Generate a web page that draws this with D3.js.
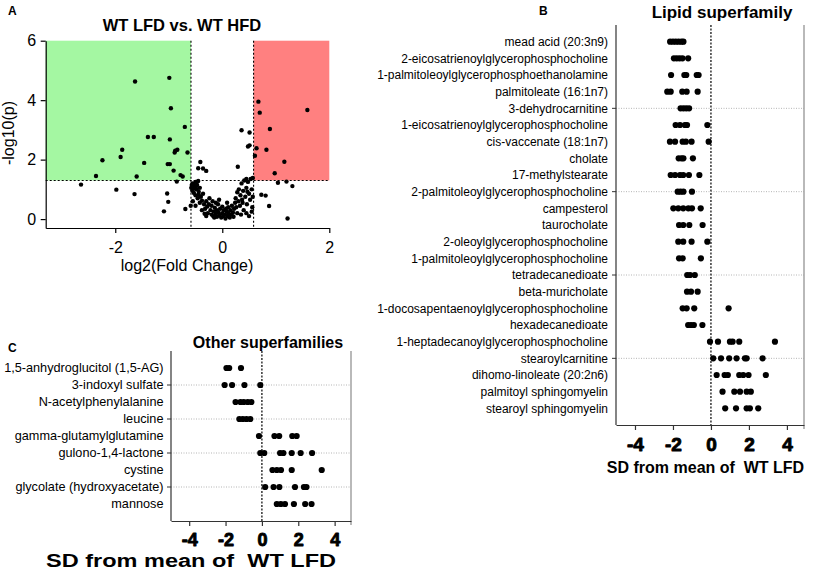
<!DOCTYPE html>
<html lang="en">
<head>
<meta charset="UTF-8">
<title>WT LFD vs. WT HFD</title>
<script src="https://d3js.org/d3.v7.min.js"></script>
<style>
    body { margin: 0; background: #fff; }
    text { font-family: "Liberation Sans", Arial, sans-serif; fill: #000; }
    .sdtick { font-weight: bold; }
</style>
</head>
<body>
<div id="chart"></div>

<script type="text/javascript">
    var width = 816;
    var height = 571;

    // ---- panel A: volcano points [log2 fold change, -log10 p] ----
    var volcanoPoints = [
        [-1.63,4.63],[-0.99,4.75],[-0.96,3.73],[-0.70,3.10],[-1.39,2.76],[-1.28,2.76],
        [-0.98,2.68],[-0.88,2.30],[-0.84,2.33],[-0.89,2.24],[-0.65,2.24],[-1.87,2.33],
        [-1.90,2.09],[-2.24,1.98],[-1.46,1.89],[-1.02,1.85],[-0.98,1.85],[-0.91,1.63],
        [-0.78,1.48],[-0.74,1.43],[-2.36,1.45],[-1.60,1.43],
        [-2.64,1.16],[-1.98,0.99],[-1.64,0.84],[-1.03,0.86],[-0.85,1.26],[-1.01,0.58],
        [-1.09,0.26],[-0.69,0.34],[-0.59,0.45],
        [0.675,3.95],[0.70,3.58],[1.59,3.67],[0.89,3.03],[0.64,2.38],[0.825,2.33],
        [0.61,2.13],[1.16,1.93],[0.98,1.54],
        [1.04,1.22],[1.20,1.26],[1.31,1.11],[0.73,0.82],[0.81,0.79],[0.875,0.44],[1.22,0.02],
        [0.36,2.99],[0.51,2.91],[0.48,2.44],[0.51,2.48],[0.29,1.76],[-0.41,1.92],
        [-0.45,1.71],[-0.30,1.62],[-0.36,1.70],[0.45,1.35],[0.57,1.38],
        [-0.58,1.05],[-0.55,1.20],[-0.52,1.12],[-0.50,1.25],[-0.48,1.00],[-0.56,0.95],
        [-0.53,0.88],[-0.47,1.15],[-0.45,1.28],[-0.50,0.80],[-0.44,0.92],[-0.42,1.05],
        [-0.40,0.75],[-0.46,0.70],[-0.38,0.62],[-0.42,0.55],[-0.36,0.85],[-0.34,0.50],
        [-0.55,0.60],[-0.50,0.45],[-0.57,1.15],[-0.54,1.02],[-0.49,1.10],[-0.44,0.82],
        [-0.32,0.35],[-0.30,0.60],[-0.28,0.42],[-0.27,0.20],[-0.25,0.50],[-0.22,0.30],
        [-0.20,0.15],[-0.20,0.45],[-0.18,0.60],[-0.16,0.25],[-0.15,0.05],[-0.14,0.38],
        [-0.12,0.18],[-0.10,0.30],[-0.10,0.08],[-0.08,0.50],[-0.07,0.22],[-0.05,0.12],
        [-0.04,0.35],[-0.02,0.05],[0.00,0.20],[0.02,0.10],[0.03,0.30],[0.05,0.15],
        [0.06,0.02],[0.08,0.25],[0.10,0.10],[0.11,0.40],[0.12,0.20],[0.14,0.05],
        [0.15,0.30],[0.17,0.15],[0.18,0.45],[0.20,0.22],[0.21,0.08],[0.22,0.35],
        [0.24,0.55],[-0.38,0.30],[-0.30,0.10],[-0.24,0.70],[-0.12,0.55],[0.00,0.42],
        [0.09,0.55],[-0.33,0.18],[-0.06,0.65],[-0.17,0.10],[0.07,0.35],[0.13,0.12],
        [0.25,0.70],[0.26,0.40],[0.28,0.90],[0.30,0.60],[0.31,1.00],[0.33,0.45],
        [0.34,0.80],[0.36,1.20],[0.37,0.65],[0.39,0.95],[0.40,0.30],[0.41,1.30],
        [0.43,0.75],[0.45,1.05],[0.46,0.50],[0.48,1.25],[0.50,0.85],[0.52,0.65],
        [0.53,1.35],[0.55,1.00],[0.56,0.40],[0.57,0.75],[0.45,0.20],[0.35,0.15],
        [0.28,0.20],[0.50,0.10],[0.55,0.25],[0.38,0.55],[0.47,0.92]
    ];
    var fcCutoff = 0.585;   // log2(1.5)
    var pCutoff = 1.3;      // -log10(0.05)
    var volcanoXTicks = [-2, 0, 2];
    var volcanoYTicks = [0, 2, 4, 6];

    // ---- panel B: lipid superfamily ----
    var lipidNames = [
        "mead acid (20:3n9)",
        "2-eicosatrienoylglycerophosphocholine",
        "1-palmitoleoylglycerophosphoethanolamine",
        "palmitoleate (16:1n7)",
        "3-dehydrocarnitine",
        "1-eicosatrienoylglycerophosphocholine",
        "cis-vaccenate (18:1n7)",
        "cholate",
        "17-methylstearate",
        "2-palmitoleoylglycerophosphocholine",
        "campesterol",
        "taurocholate",
        "2-oleoylglycerophosphocholine",
        "1-palmitoleoylglycerophosphocholine",
        "tetradecanedioate",
        "beta-muricholate",
        "1-docosapentaenoylglycerophosphocholine",
        "hexadecanedioate",
        "1-heptadecanoylglycerophosphocholine",
        "stearoylcarnitine",
        "dihomo-linoleate (20:2n6)",
        "palmitoyl sphingomyelin",
        "stearoyl sphingomyelin"
    ];
    var lipidValues = [
        [-2.15, -2.0, -1.85, -1.7, -1.55, -1.45],
        [-1.95, -1.8, -1.65, -1.5, -1.2],
        [-2.1, -1.4, -1.3, -0.75, -0.65],
        [-2.3, -2.12, -1.51, -1.28, -0.7],
        [-1.6, -1.45, -1.3, -1.15],
        [-1.86, -1.63, -1.37, -1.26, -0.19],
        [-2.16, -1.89, -1.49, -1.32, -1.02, -0.12],
        [-1.7, -1.55, -1.45, -0.95],
        [-2.12, -1.89, -1.63, -1.46, -1.16, -0.61],
        [-1.75, -1.6, -1.45, -1.0],
        [-1.98, -1.72, -1.46, -1.19, -1.0, -0.54],
        [-1.68, -1.46, -1.14, -0.44],
        [-1.72, -1.46, -1.02, -0.19],
        [-1.68, -1.49, -0.53],
        [-1.25, -1.1, -0.85],
        [-1.26, -1.05, -0.7],
        [-1.49, -1.28, -0.88, 0.93],
        [-1.2, -1.05, -0.9, -0.45],
        [-0.05, 0.37, 1.0, 1.14, 1.49, 3.37],
        [0.12, 0.53, 0.96, 1.35, 1.79, 1.88, 2.72],
        [0.3, 0.72, 0.89, 1.49, 1.7, 1.98, 2.89],
        [0.61, 1.23, 1.53, 1.88, 2.1],
        [0.75, 1.32, 1.88, 2.05, 2.49]
    ];
    var lipidGridRows = [4, 9, 14, 19];

    // ---- panel C: other superfamilies ----
    var otherNames = [
        "1,5-anhydroglucitol (1,5-AG)",
        "3-indoxyl sulfate",
        "N-acetylphenylalanine",
        "leucine",
        "gamma-glutamylglutamine",
        "gulono-1,4-lactone",
        "cystine",
        "glycolate (hydroxyacetate)",
        "mannose"
    ];
    var otherValues = [
        [-1.95, -1.8, -1.15],
        [-2.05, -1.64, -0.96, -0.09],
        [-1.45, -1.18, -1.0, -0.78, -0.58],
        [-1.24, -1.05, -0.85, -0.64],
        [-0.16, 0.69, 0.95, 1.67, 1.91],
        [-0.09, 0.13, 1.0, 1.18, 1.64, 2.13, 2.76],
        [0.58, 0.82, 1.05, 1.64, 3.29],
        [0.18, 0.64, 0.96, 1.82, 2.31, 2.45],
        [0.82, 1.04, 1.27, 1.76, 2.38, 2.73]
    ];
    var otherGridRows = [1, 3, 5, 7];

    var sdTicks = [-4, -2, 0, 2, 4];

    var fontStack = "'Liberation Sans', Arial, sans-serif";
    var plainFormat = function (d) { return String(d); };

    var svg = d3.select("#chart")
        .append("svg")
        .attr("width", width)
        .attr("height", height);

    // ================= panel A =================
    var xA = d3.scaleLinear().domain([-3.3, 2]).range([45.7, 329.3]);
    var yA = d3.scaleLinear().domain([-0.3, 6]).range([228, 40.7]);
    var gA = svg.append("g");

    gA.append("rect")
        .attr("x", xA(-3.3)).attr("y", yA(6))
        .attr("width", xA(-fcCutoff) - xA(-3.3))
        .attr("height", yA(pCutoff) - yA(6))
        .attr("fill", "#a4f7a2");
    gA.append("rect")
        .attr("x", xA(fcCutoff)).attr("y", yA(6))
        .attr("width", xA(2) - xA(fcCutoff))
        .attr("height", yA(pCutoff) - yA(6))
        .attr("fill", "#ff8080");

    [-fcCutoff, fcCutoff].forEach(function (v) {
        gA.append("line")
            .attr("x1", xA(v)).attr("x2", xA(v))
            .attr("y1", yA(6)).attr("y2", yA(-0.3))
            .attr("stroke", "#000").attr("stroke-width", 1.1)
            .attr("stroke-dasharray", "2,2");
    });
    gA.append("line")
        .attr("x1", xA(-3.3)).attr("x2", xA(2))
        .attr("y1", yA(pCutoff)).attr("y2", yA(pCutoff))
        .attr("stroke", "#000").attr("stroke-width", 1.1)
        .attr("stroke-dasharray", "2,2");

    gA.selectAll("circle.vp")
        .data(volcanoPoints)
        .enter().append("circle")
        .attr("class", "vp")
        .attr("cx", function (d) { return xA(d[0]); })
        .attr("cy", function (d) { return yA(d[1]); })
        .attr("r", 2.2)
        .attr("fill", "#000");

    var axA = gA.append("g")
        .attr("transform", "translate(0," + yA(-0.3) + ")")
        .call(d3.axisBottom(xA).tickValues(volcanoXTicks).tickSize(5).tickSizeOuter(0)
            .tickFormat(plainFormat));
    var ayA = gA.append("g")
        .attr("transform", "translate(" + xA(-3.3) + ",0)")
        .call(d3.axisLeft(yA).tickValues(volcanoYTicks).tickSize(5).tickSizeOuter(0)
            .tickFormat(plainFormat));
    [axA, ayA].forEach(function (a) {
        a.attr("font-family", null).attr("font-size", null);
        a.select(".domain").attr("stroke", "#000").attr("stroke-width", 1.2);
        a.selectAll(".tick line").attr("stroke", "#000").attr("stroke-width", 1.2);
        a.selectAll(".tick text")
            .style("font-size", "16px")
            .style("font-family", fontStack)
            .attr("fill", "#000");
    });
    axA.selectAll(".tick text").attr("dy", "1.05em");
    ayA.selectAll(".tick text").attr("dx", "-0.1em");

    gA.append("text")
        .attr("x", 182).attr("y", 31)
        .attr("text-anchor", "middle")
        .style("font-size", "16.5px").style("font-weight", "bold")
        .text("WT LFD vs. WT HFD");
    gA.append("text")
        .attr("x", 187).attr("y", 271)
        .attr("text-anchor", "middle")
        .style("font-size", "16px")
        .text("log2(Fold Change)");
    gA.append("text")
        .attr("transform", "translate(14,133) rotate(-90)")
        .attr("text-anchor", "middle")
        .style("font-size", "16px")
        .text("-log10(p)");
    gA.append("text")
        .attr("x", 8).attr("y", 15)
        .style("font-size", "12px").style("font-weight", "bold")
        .text("A");

    // ================= panels B and C =================
    function dotPanel(cfg) {
        var g = svg.append("g");
        var x = d3.scaleLinear().domain([-5, 4.9]).range(cfg.xRange);
        var y = d3.scalePoint().domain(cfg.names).range(cfg.yRange).padding(1);
        var top = cfg.yRange[0], bottom = cfg.yRange[1];
        var left = cfg.xRange[0], right = cfg.xRange[1];

        cfg.gridRows.forEach(function (i) {
            var yy = y(cfg.names[i]);
            g.append("line")
                .attr("x1", left).attr("x2", right)
                .attr("y1", yy).attr("y2", yy)
                .attr("stroke", "#b5b5b5").attr("stroke-width", 1)
                .attr("stroke-dasharray", "1,1.5");
            g.append("line")
                .attr("x1", left - 4).attr("x2", left)
                .attr("y1", yy).attr("y2", yy)
                .attr("stroke", "#333").attr("stroke-width", 1);
        });

        g.append("line")
            .attr("x1", x(0)).attr("x2", x(0))
            .attr("y1", top).attr("y2", bottom)
            .attr("stroke", "#000").attr("stroke-width", 1.2)
            .attr("stroke-dasharray", "2,1.5");

        // right frame
        g.append("line")
            .attr("x1", right).attr("x2", right)
            .attr("y1", top).attr("y2", bottom + 4)
            .attr("stroke", "#8a8a8a").attr("stroke-width", 1.2);
        // left axis
        g.append("line")
            .attr("x1", left).attr("x2", left)
            .attr("y1", top).attr("y2", bottom)
            .attr("stroke", "#333").attr("stroke-width", 1.2);

        var ax = g.append("g")
            .attr("transform", "translate(0," + bottom + ")")
            .call(d3.axisBottom(x).tickValues(sdTicks).tickSize(5).tickSizeOuter(0)
                .tickFormat(plainFormat));
        ax.attr("font-family", null).attr("font-size", null);
        ax.select(".domain").attr("stroke", "#333").attr("stroke-width", 1.2);
        ax.selectAll(".tick line").attr("stroke", "#333").attr("stroke-width", 1.2);
        ax.selectAll(".tick text")
            .attr("class", "sdtick")
            .attr("y", cfg.tickY - bottom).attr("dy", 0)
            .style("font-size", cfg.tickSize + "px").style("font-weight", "bold")
            .style("font-family", fontStack)
            .attr("fill", "#000")
            .attr("stroke", "#000").attr("stroke-width", 0.9)
            .attr("stroke-linejoin", "round");

        cfg.names.forEach(function (name, i) {
            g.append("text")
                .attr("x", cfg.labelX).attr("y", y(name) + 4.3)
                .attr("text-anchor", "end")
                .style("font-size", cfg.labelSize + "px")
                .text(name);
            g.selectAll(null)
                .data(cfg.values[i])
                .enter().append("circle")
                .attr("cx", function (d) { return x(d); })
                .attr("cy", y(name))
                .attr("r", 3.1)
                .attr("fill", "#000");
        });

        var lab = g.append("text")
            .attr("x", cfg.axisLabel.x).attr("y", cfg.axisLabel.y)
            .attr("text-anchor", "middle")
            .style("font-size", cfg.axisLabel.size + "px").style("font-weight", "bold")
            .style("white-space", "pre")
            .text("SD from mean of  WT LFD");
        if (cfg.axisLabel.len) {
            lab.attr("textLength", cfg.axisLabel.len).attr("lengthAdjust", "spacingAndGlyphs");
        }

        g.append("text")
            .attr("x", cfg.title.x).attr("y", cfg.title.y)
            .attr("text-anchor", "middle")
            .style("font-size", cfg.title.size + "px").style("font-weight", "bold")
            .text(cfg.title.text);
        g.append("text")
            .attr("x", cfg.letter.x).attr("y", cfg.letter.y)
            .style("font-size", "12px").style("font-weight", "bold")
            .text(cfg.letter.text);
    }

    dotPanel({
        names: lipidNames,
        values: lipidValues,
        gridRows: lipidGridRows,
        xRange: [616, 804],
        yRange: [25, 425],
        labelX: 608,
        labelSize: 12,
        tickY: 451,
        tickSize: 19,
        axisLabel: { x: 705.5, y: 473, size: 16 },
        title: { text: "Lipid superfamily", x: 722, y: 18, size: 17 },
        letter: { text: "B", x: 539, y: 15 }
    });

    dotPanel({
        names: otherNames,
        values: otherValues,
        gridRows: otherGridRows,
        xRange: [171, 351],
        yRange: [351, 521],
        labelX: 163.5,
        labelSize: 12.7,
        tickY: 546,
        tickSize: 18,
        axisLabel: { x: 191, y: 567, size: 17.5, len: 290 },
        title: { text: "Other superfamilies", x: 268, y: 348, size: 16 },
        letter: { text: "C", x: 8, y: 352 }
    });
</script>
</body>
</html>
